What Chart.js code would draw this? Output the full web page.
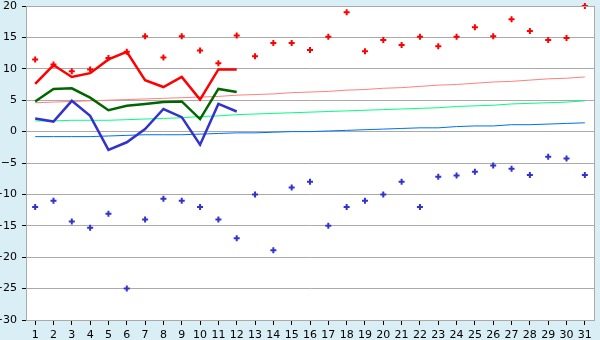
<!DOCTYPE html>
<html>
<head>
<meta charset="utf-8">
<script src="https://cdn.jsdelivr.net/npm/chart.js@4/dist/chart.umd.min.js"></script>
<style>
    html, body { margin: 0; padding: 0; background: #D9EEF5; }
    #wrap { width: 600px; height: 340px; }
</style>
</head>
<body>
<div id="wrap"><canvas id="chart" width="600" height="340"></canvas></div>
<script>
// days of the month
var days = ["1","2","3","4","5","6","7","8","9","10","11","12","13","14","15","16",
    "17","18","19","20","21","22","23","24","25","26","27","28","29","30","31"];

// measured daily values (only first 12 days)
var max_line = [7.6, 10.6, 8.7, 9.3, 11.5, 12.7, 8.2, 7.1, 8.7, 5.1, 9.9, 9.9];
var avg_line = [4.8, 6.8, 6.9, 5.4, 3.4, 4.1, 4.4, 4.7, 4.8, 2.0, 6.8, 6.3];
var min_line = [2.1, 1.6, 4.9, 2.5, -2.9, -1.7, 0.4, 3.6, 2.3, -2.1, 4.4, 3.2];

// record values per day
var max_points = [11.5, 10.7, 9.6, 9.9, 11.7, 12.7, 15.2, 11.8, 15.2, 12.9, 10.9, 15.3, 12.0, 14.1, 14.1, 13.0,
    15.1, 19.0, 12.8, 14.6, 13.8, 15.1, 13.6, 15.1, 16.6, 15.2, 17.9, 16.0, 14.6, 14.9, 20.0];
var min_points = [-12.0, -11.0, -14.3, -15.3, -13.1, -25.0, -14.0, -10.7, -11.0, -12.0, -14.0, -17.0, -10.0, -18.9, -8.9, -8.0,
    -15.0, -12.0, -11.0, -10.0, -8.0, -12.0, -7.2, -7.0, -6.4, -5.4, -5.9, -6.9, -4.0, -4.3, -6.9];

// long-term normals
var normal_max = [4.6, 4.7, 4.8, 4.9, 5.0, 5.1, 5.2, 5.3, 5.4, 5.5, 5.6, 5.8, 5.9, 6.0, 6.2, 6.3,
    6.4, 6.6, 6.7, 6.9, 7.0, 7.2, 7.4, 7.5, 7.7, 7.9, 8.0, 8.2, 8.4, 8.5, 8.7];
var normal_avg = [1.7, 1.7, 1.8, 1.8, 1.8, 1.9, 2.0, 2.1, 2.2, 2.4, 2.5, 2.7, 2.8, 2.9, 3.0, 3.1,
    3.2, 3.3, 3.4, 3.5, 3.6, 3.7, 3.8, 4.0, 4.1, 4.2, 4.4, 4.5, 4.6, 4.7, 4.9];
var normal_min = [-0.8, -0.8, -0.8, -0.8, -0.7, -0.6, -0.5, -0.5, -0.5, -0.4, -0.3, -0.2, -0.2, -0.1, 0.0, 0.0,
    0.1, 0.2, 0.3, 0.4, 0.5, 0.6, 0.6, 0.8, 0.9, 0.9, 1.1, 1.1, 1.2, 1.3, 1.4];

var y_min = -30, y_max = 20, y_step = 5;

var grid_color = "#AAAAAA";

// white plot area + grey frame
var frame_plugin = {
    id: "frame",
    beforeDraw: function(chart) {
        var c = chart.ctx, a = chart.chartArea;
        c.save();
        c.fillStyle = "#D9EEF5";
        c.fillRect(0, 0, chart.width, chart.height);
        c.fillStyle = "#FFFFFF";
        c.fillRect(a.left, a.top, a.right - a.left, a.bottom - a.top);
        c.restore();
    },
    afterDraw: function(chart) {
        var c = chart.ctx, a = chart.chartArea;
        c.save();
        c.strokeStyle = grid_color;
        c.lineWidth = 1;
        c.strokeRect(Math.round(a.left) + 0.5, Math.round(a.top) + 0.5,
            Math.round(a.right - a.left), Math.round(a.bottom - a.top));
        c.restore();
    }
};

function thick(data, color) {
    return { data: data, borderColor: color, borderWidth: 2.5, pointRadius: 0, fill: false, tension: 0 };
}
function thin(data, color) {
    return { data: data, borderColor: color, borderWidth: 1, pointRadius: 0, fill: false, tension: 0 };
}
function marks(data, color) {
    return { data: data, showLine: false, clip: false, borderColor: color, backgroundColor: color,
        pointStyle: "cross", pointRadius: 3, borderWidth: 2 };
}

var ctx = document.getElementById("chart");
var chart = new Chart(ctx, {
    type: "line",
    data: {
        labels: days,
        datasets: [
            marks(max_points, "#FF0000"),
            marks(min_points, "#3333CC"),
            thick(max_line, "#FF0000"),
            thick(avg_line, "#006600"),
            thick(min_line, "#3333CC"),
            thin(normal_max, "#FF8080"),
            thin(normal_avg, "#00FF80"),
            thin(normal_min, "#0070F0")
        ]
    },
    options: {
        responsive: false,
        animation: false,
        layout: { padding: { top: 5, right: 4, left: 0, bottom: 0 } },
        plugins: { legend: { display: false }, tooltip: { enabled: false } },
        scales: {
            x: {
                type: "category",
                offset: true,
                grid: { display: true, drawOnChartArea: false, drawTicks: true, tickLength: 5,
                    color: "#000000", tickColor: "#000000", offset: false },
                border: { color: grid_color },
                ticks: { color: "#000000", font: { family: "DejaVu Sans", size: 11 }, padding: 4, maxRotation: 0, autoSkip: false },
                afterFit: function(s) {
                    s.height = 20;
                    s.paddingLeft = 0;
                    s.paddingRight = 0;
                }
            },
            y: {
                min: y_min,
                max: y_max,
                grid: { color: grid_color, tickColor: "#000000", drawTicks: true, tickLength: 4 },
                border: { color: grid_color },
                ticks: {
                    stepSize: y_step,
                    color: "#000000",
                    padding: 5,
                    font: { family: "DejaVu Sans", size: 11 },
                    callback: function(v) { return String(v).replace("-", "\u2212"); }
                },
                afterFit: function(s) {
                    s.width = 26;
                    s.paddingTop = 0;
                    s.paddingBottom = 0;
                }
            }
        }
    },
    plugins: [frame_plugin]
});
</script>
</body>
</html>
